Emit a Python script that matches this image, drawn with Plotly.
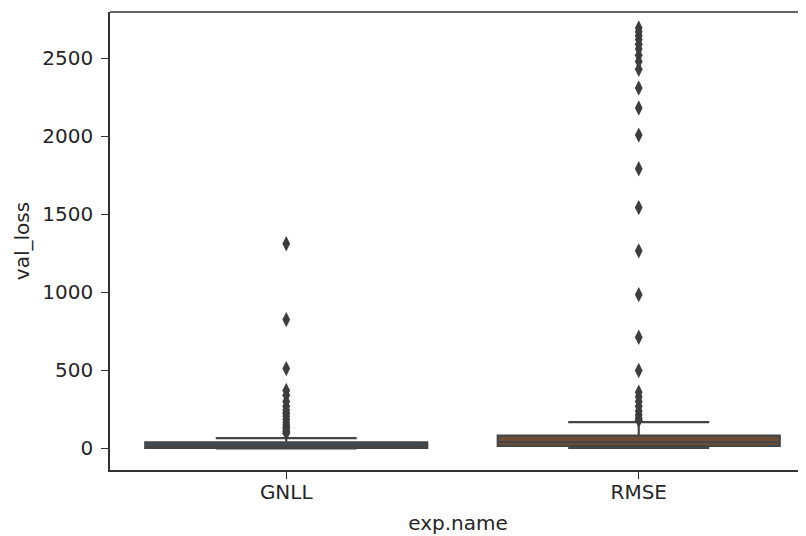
import plotly.graph_objects as go

categories = ["GNLL", "RMSE"]

# box statistics
q1 = [2, 15]
median = [15, 40]
q3 = [38, 82]
lowerfence = [0, 2]
upperfence = [65, 168]

gnll_outliers = [1311, 825, 511, 371, 340, 300, 270, 245, 225, 205, 185,
                 165, 150, 135, 120, 108, 97]
rmse_outliers = [2694, 2670, 2645, 2620, 2590, 2560, 2520, 2480, 2430, 2310,
                 2182, 2008, 1792, 1543, 1266, 985, 712, 499, 360, 330, 300,
                 270, 240, 215, 195, 180]

box_colors = ["#3e4d59", "#6d4e34"]
edge = "#454545"
text_color = "#262626"
font_size = 20

fig = go.Figure()
for i, cat in enumerate(categories):
    fig.add_trace(go.Box(
        x=[cat], q1=[q1[i]], median=[median[i]], q3=[q3[i]],
        lowerfence=[lowerfence[i]], upperfence=[upperfence[i]],
        fillcolor=box_colors[i], line=dict(color=edge, width=2.2),
        whiskerwidth=0.5, width=0.8, boxpoints=False, showlegend=False,
        hoverinfo="skip",
    ))

for cat, vals in zip(categories, [gnll_outliers, rmse_outliers]):
    fig.add_trace(go.Scatter(
        x=[cat] * len(vals), y=vals, mode="markers",
        marker=dict(symbol="diamond-tall", size=11, color="#3d3d3d",
                    line=dict(width=0)),
        showlegend=False, hoverinfo="skip",
    ))

title_font = dict(family="DejaVu Sans", size=font_size, color=text_color)

fig.update_layout(
    width=798, height=528,
    margin=dict(l=102, r=0, t=4, b=66, autoexpand=False),
    plot_bgcolor="white", paper_bgcolor="white",
    font=dict(family="DejaVu Sans", size=font_size, color=text_color),
    boxmode="overlay",
    xaxis=dict(
        type="category", categoryorder="array", categoryarray=categories,
        range=[-0.5, 1.4745], showgrid=False, zeroline=False,
        showline=True, linecolor="#333333", linewidth=1.5,
        ticks="outside", ticklen=7, tickwidth=1.3, tickcolor="#333333",
        ticklabelstandoff=-4, automargin=False,
        title=dict(text="exp.name", standoff=13, font=title_font),
    ),
    yaxis=dict(
        range=[-139, 2797], showgrid=False, zeroline=False,
        tickvals=[0, 500, 1000, 1500, 2000, 2500],
        showline=True, linecolor="#333333", linewidth=1.5,
        ticks="outside", ticklen=7, tickwidth=1.3, tickcolor="#333333",
        ticklabelstandoff=4, automargin=False,
        title=dict(text="val_loss", standoff=7, font=title_font),
    ),
    shapes=[dict(type="line", xref="paper", yref="paper", x0=0, x1=1,
                 y0=1, y1=1, line=dict(color="#333333", width=1.5))],
)

fig.write_html("out.html")
